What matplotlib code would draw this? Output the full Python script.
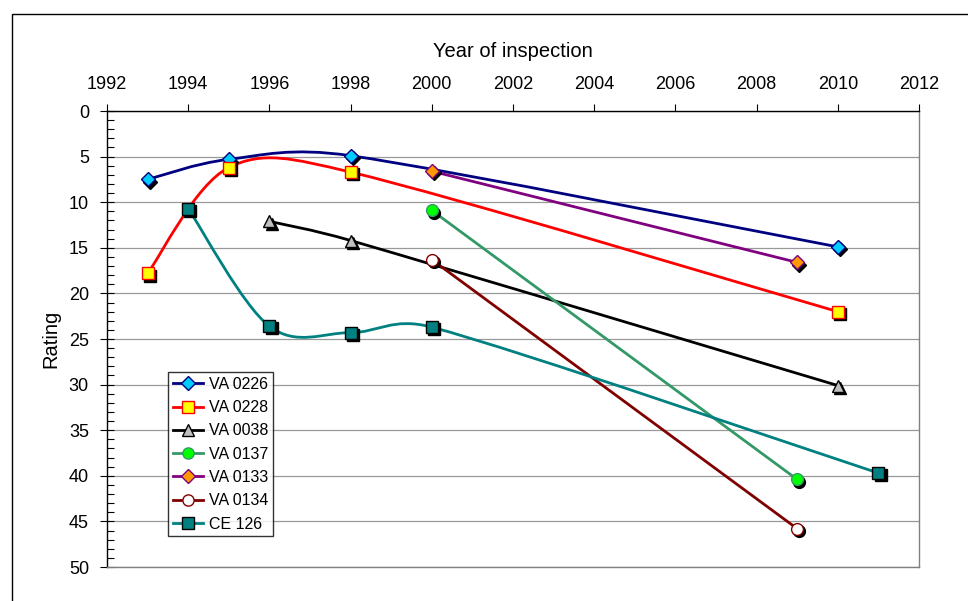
import numpy as np
import matplotlib
matplotlib.use("Agg")
import matplotlib.pyplot as plt
from matplotlib.path import Path
from matplotlib.patches import PathPatch, Rectangle
from matplotlib.lines import Line2D
import matplotlib.transforms as mtransforms
from matplotlib.ticker import MultipleLocator

plt.rcParams['font.family'] = ['Liberation Sans', 'DejaVu Sans']

# ---- data ----
va0226_x = [1993, 1995, 1998, 2010]
va0226_y = [7.5, 5.3, 4.9, 14.9]
va0228_x = [1993, 1995, 1998, 2010]
va0228_y = [17.8, 6.2, 6.7, 22.0]
va0038_x = [1996, 1998, 2010]
va0038_y = [12.1, 14.2, 30.1]
va0137_x = [2000, 2009]
va0137_y = [10.9, 40.4]
va0133_x = [2000, 2009]
va0133_y = [6.6, 16.6]
va0134_x = [2000, 2009]
va0134_y = [16.3, 45.8]
ce126_x = [1994, 1996, 1998, 2000, 2011]
ce126_y = [10.7, 23.6, 24.3, 23.7, 39.7]

x_ticks = [1992, 1994, 1996, 1998, 2000, 2002, 2004, 2006, 2008, 2010, 2012]
y_ticks = [0, 5, 10, 15, 20, 25, 30, 35, 40, 45, 50]

series = [
    ("VA 0226", va0226_x, va0226_y, dict(line='#000080', marker='D', ms=7, face='#00CCFF', edge='#000080')),
    ("VA 0228", va0228_x, va0228_y, dict(line='#FF0000', marker='s', ms=8.5, face='#FFFF00', edge='#FF0000')),
    ("VA 0038", va0038_x, va0038_y, dict(line='#000000', marker='^', ms=9, face='#C0C0C0', edge='#000000')),
    ("VA 0137", va0137_x, va0137_y, dict(line='#339966', marker='o', ms=8.5, face='#00FF00', edge='#339966')),
    ("VA 0133", va0133_x, va0133_y, dict(line='#800080', marker='D', ms=7, face='#FF9900', edge='#800080')),
    ("VA 0134", va0134_x, va0134_y, dict(line='#800000', marker='o', ms=8.5, face='#FFFFFF', edge='#800000')),
    ("CE 126", ce126_x, ce126_y, dict(line='#008080', marker='s', ms=8.5, face='#008080', edge='#000000')),
]

W, H = 968, 601
fig = plt.figure(figsize=(W / 100, H / 100), dpi=100)
fig.patch.set_facecolor('white')

# outer chart frame (extends beyond the image at right and bottom)
fig.add_artist(Rectangle((11.5 / W, -0.05), 1.1, (H - 14) / H + 0.05, transform=fig.transFigure,
                         fill=False, edgecolor='black', linewidth=1.0))

L, R, T, B = 107, 919, 111, 567
ax = fig.add_axes([L / W, 1 - B / H, (R - L) / W, (B - T) / H])
ax.set_xlim(1992, 2012)
ax.set_ylim(50, 0)

# pixel scale factors (for Excel-like smoothing done in screen space)
SX = (R - L) / 20.0
SY = (B - T) / 50.0


def smooth_path(xs, ys):
    pts = np.column_stack([np.asarray(xs, float) * SX, np.asarray(ys, float) * SY])
    n = len(pts)
    verts = [pts[0]]
    codes = [Path.MOVETO]
    if n == 2:
        verts.append(pts[1])
        codes.append(Path.LINETO)
    else:
        for i in range(n - 1):
            p0 = pts[i - 1] if i > 0 else pts[i]
            p1 = pts[i]
            p2 = pts[i + 1]
            p3 = pts[i + 2] if i + 2 < n else pts[i + 1]
            d12 = np.hypot(*(p2 - p1))
            d02 = np.hypot(*(p2 - p0))
            d13 = np.hypot(*(p3 - p1))
            f0 = 1 / 6.0
            f3 = 1 / 6.0
            if d02 / 6.0 >= d12 / 2.0 and d02 > 0:
                f0 = d12 / d02 / 2.0
            if d13 / 6.0 >= d12 / 2.0 and d13 > 0:
                f3 = d12 / d13 / 2.0
            c1 = p1 + (p2 - p0) * f0
            c2 = p2 - (p3 - p1) * f3
            verts += [c1, c2, p2]
            codes += [Path.CURVE4, Path.CURVE4, Path.CURVE4]
    v = np.array(verts)
    v[:, 0] /= SX
    v[:, 1] /= SY
    return Path(v, codes)


shadow = mtransforms.offset_copy(ax.transData, fig=fig, x=2.2, y=-2.2, units='dots')
handles = []
for i, (name, xs, ys, st) in enumerate(series):
    p = smooth_path(xs, ys)
    ax.add_patch(PathPatch(p, fill=False, edgecolor=st['line'], linewidth=2.0, zorder=3 + i * 0.01))
for i, (name, xs, ys, st) in enumerate(series):
    ax.plot(xs, ys, linestyle='none', marker=st['marker'], ms=st['ms'], mfc='black', mec='black',
            transform=shadow, zorder=4, clip_on=False)
    ax.plot(xs, ys, linestyle='none', marker=st['marker'], ms=st['ms'], mfc=st['face'], mec=st['edge'],
            mew=1.0, zorder=5, clip_on=False)
    handles.append(Line2D([], [], color=st['line'], lw=2.0, marker=st['marker'], ms=st['ms'] * 0.95,
                          mfc=st['face'], mec=st['edge'], mew=1.0))

# axes styling
ax.xaxis.tick_top()
ax.xaxis.set_label_position('top')
ax.set_xticks(x_ticks)
ax.set_xticklabels([str(v) for v in x_ticks])
ax.set_yticks(y_ticks)
ax.yaxis.set_minor_locator(MultipleLocator(1))
ax.tick_params(axis='x', which='major', direction='out', length=5, width=0.8, labelsize=13, pad=8,
               color='black')
ax.tick_params(axis='y', which='major', direction='inout', length=10, width=0.8, labelsize=13, pad=8)
ax.tick_params(axis='y', which='minor', direction='in', length=5, width=0.8)
ax.set_xlabel('Year of inspection', fontsize=14.5, labelpad=13.5)
ax.set_ylabel('Rating', fontsize=14.5, labelpad=6)

ax.grid(axis='y', which='major', color='#999999', linewidth=0.9, linestyle='-', zorder=0)
ax.set_axisbelow(True)
ax.spines['top'].set_color('black')
ax.spines['left'].set_color('black')
ax.spines['right'].set_color('#808080')
ax.spines['bottom'].set_color('#808080')
for s in ax.spines.values():
    s.set_linewidth(1.0)

leg = ax.legend(handles, [s[0] for s in series], loc='upper left',
                bbox_to_anchor=((168 - L) / (R - L), (B - 372) / (B - T)), borderaxespad=0,
                fontsize=11.5, frameon=True, fancybox=False, handlelength=1.9, handletextpad=0.35,
                labelspacing=0.52, borderpad=0.3)
leg.get_frame().set_edgecolor('black')
leg.get_frame().set_linewidth(1.0)
leg.set_zorder(10)

fig.savefig('out.png', dpi=100, facecolor='white')
